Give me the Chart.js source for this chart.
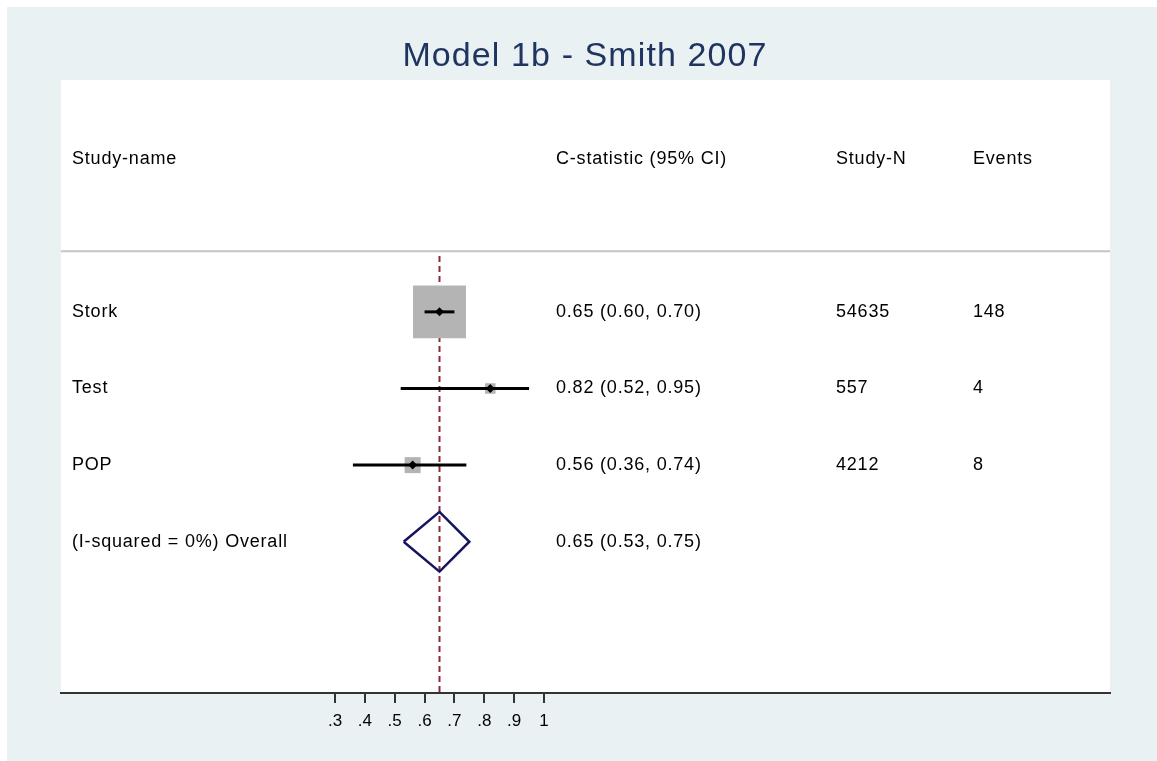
<!DOCTYPE html>
<html>
<head>
<meta charset="utf-8">
<title>Model 1b - Smith 2007</title>
<script src="https://cdn.jsdelivr.net/npm/chart.js@4/dist/chart.umd.min.js"></script>
<style>
  html, body { margin: 0; padding: 0; background: #ffffff; }
  #wrap { width: 1157px; height: 761px; }
</style>
</head>
<body>
<div id="wrap"><canvas id="forest" width="1157" height="761"></canvas></div>
<script>
// Study-level results
const studies = ['Stork', 'Test', 'POP'];
const estimates = [0.65, 0.82, 0.56];
const lowerCI = [0.60, 0.52, 0.36];
const upperCI = [0.70, 0.95, 0.74];
const weights = [88.5, 3.5, 8.1];          // % weight, sets box area
const studyN = [54635, 557, 4212];
const events = [148, 4, 8];

// Pooled result
const overallLabel = '(I-squared = 0%) Overall';
const overallEst = 0.65;
const overallLower = 0.53;
const overallUpper = 0.75;

// Column headings and axis ticks
const headers = ['Study-name', 'C-statistic (95% CI)', 'Study-N', 'Events'];
const xTicks = [0.3, 0.4, 0.5, 0.6, 0.7, 0.8, 0.9, 1];
const titleText = 'Model 1b - Smith 2007';

const TEXT_FONT = '18px "Liberation Sans", Arial, sans-serif';
const fmt = v => v.toFixed(2);
const ciText = (e, l, u) => fmt(e) + ' (' + fmt(l) + ', ' + fmt(u) + ')';

// rows: header at -1, studies 1..n, pooled after them
const rowOf = i => i + 1;
const overallRow = studies.length + 1;
const headerRow = -1;
const separatorRow = 0.21;

// Datasets
const refLine = {
  label: 'ref', type: 'scatter', showLine: true,
  data: [{ x: overallEst, y: 0.27 }, { x: overallEst, y: 6.5 }],
  borderColor: '#8c2a3c', borderWidth: 2, borderDash: [6, 4],
  pointRadius: 0, order: 5
};
const boxes = {
  label: 'weight', type: 'scatter',
  data: studies.map((s, i) => ({ x: estimates[i], y: rowOf(i) })),
  pointStyle: 'rect',
  pointRadius: weights.map(w => 3.98 * Math.sqrt(w)),
  backgroundColor: '#b4b4b4', borderWidth: 0, order: 4
};
const ciLines = studies.map((s, i) => ({
  label: s + ' CI', type: 'scatter', showLine: true,
  data: [{ x: lowerCI[i], y: rowOf(i) }, { x: upperCI[i], y: rowOf(i) }],
  borderColor: '#000000', borderWidth: 3, pointRadius: 0, order: 3
}));
const points = {
  label: 'estimate', type: 'scatter',
  data: studies.map((s, i) => ({ x: estimates[i], y: rowOf(i) })),
  pointStyle: 'rectRot', pointRadius: 4.5,
  backgroundColor: '#000000', borderColor: '#000000', borderWidth: 0, order: 2
};
const diamond = {
  label: 'overall', type: 'scatter', showLine: true,
  data: [
    { x: overallLower, y: overallRow },
    { x: overallEst, y: overallRow - 0.39 },
    { x: overallUpper, y: overallRow },
    { x: overallEst, y: overallRow + 0.39 },
    { x: overallLower, y: overallRow }
  ],
  borderColor: '#15155f', borderWidth: 2.5, pointRadius: 0, fill: false, order: 1
};

// Panel backgrounds
const backdrop = {
  id: 'backdrop',
  beforeDraw(chart) {
    const { ctx, chartArea: a, width, height } = chart;
    ctx.save();
    ctx.fillStyle = '#ffffff';
    ctx.fillRect(0, 0, width, height);
    ctx.fillStyle = '#e9f1f3';
    ctx.fillRect(7, 7, width - 7, height - 7);
    ctx.fillStyle = '#ffffff';
    ctx.fillRect(a.left, a.top, a.right - a.left, a.bottom - a.top);
    // rule under the column headings
    const y = chart.scales.y.getPixelForValue(separatorRow);
    ctx.strokeStyle = '#c4c4c4';
    ctx.lineWidth = 2;
    ctx.beginPath();
    ctx.moveTo(a.left, y);
    ctx.lineTo(a.right, y);
    ctx.stroke();
    ctx.restore();
  }
};

// Title and table columns
const columns = [72, 556, 836, 973];
const tableText = {
  id: 'tableText',
  afterDraw(chart) {
    const { ctx } = chart;
    const ys = chart.scales.y;
    ctx.save();
    ctx.fillStyle = '#1f3461';
    ctx.font = '34px "Liberation Sans", Arial, sans-serif';
    ctx.letterSpacing = '1.1px';
    ctx.textAlign = 'center';
    ctx.textBaseline = 'alphabetic';
    ctx.fillText(titleText, 585, 66);

    ctx.fillStyle = '#000000';
    ctx.font = TEXT_FONT;
    ctx.letterSpacing = '0.8px';
    ctx.textAlign = 'left';
    ctx.textBaseline = 'middle';
    const put = (row, cells) => {
      const y = ys.getPixelForValue(row);
      cells.forEach((t, c) => { if (t !== '') ctx.fillText(String(t), columns[c], y); });
    };
    put(headerRow, headers);
    studies.forEach((s, i) => {
      put(rowOf(i), [s, ciText(estimates[i], lowerCI[i], upperCI[i]), studyN[i], events[i]]);
    });
    put(overallRow, [overallLabel, ciText(overallEst, overallLower, overallUpper), '', '']);
    ctx.restore();
  }
};

new Chart(document.getElementById('forest'), {
  type: 'scatter',
  data: { datasets: [refLine, boxes, ...ciLines, points, diamond] },
  options: {
    responsive: false,
    animation: false,
    events: [],
    layout: { padding: { left: 61, right: 47, top: 80, bottom: 0 } },
    plugins: { legend: { display: false }, title: { display: false }, tooltip: { enabled: false } },
    scales: {
      x: {
        type: 'linear',
        min: -0.6177,
        max: 2.8957,
        afterBuildTicks: s => { s.ticks = xTicks.map(v => ({ value: v })); },
        afterFit: s => { s.height = 68; },
        ticks: {
          autoSkip: false,
          maxRotation: 0,
          padding: 8,
          color: '#000000',
          font: { family: '"Liberation Sans", Arial, sans-serif', size: 17 },
          callback: v => (v >= 1 ? String(v) : String(v).replace(/^0/, ''))
        },
        grid: { drawOnChartArea: false, drawTicks: true, tickLength: 10, color: '#333333', lineWidth: 2 },
        border: { display: true, color: '#333333', width: 2 }
      },
      y: {
        type: 'linear', min: -2.026, max: 5.974, reverse: true, display: false
      }
    }
  },
  plugins: [backdrop, tableText]
});
</script>
</body>
</html>
